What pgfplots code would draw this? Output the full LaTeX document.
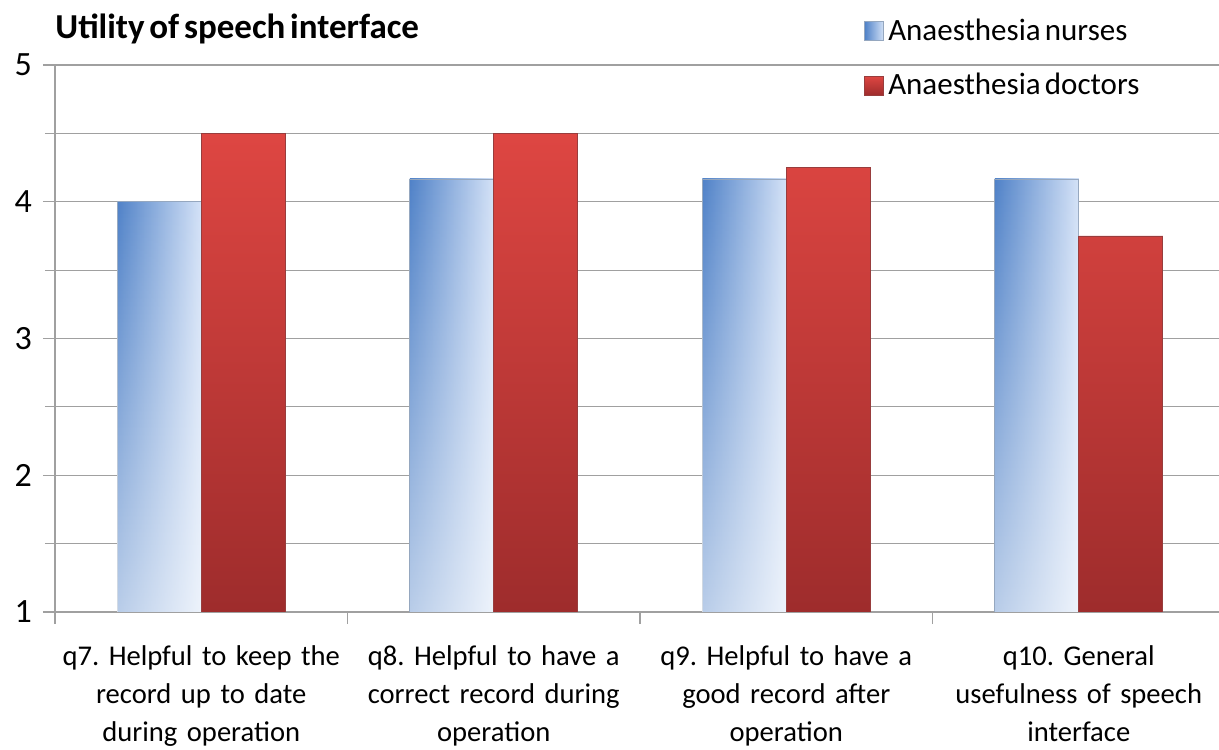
\documentclass[border=0pt]{standalone}
\usepackage{pgfplots}
\pgfplotsset{compat=1.18}
\usepackage{fontspec}
\setmainfont{Carlito}[WordSpace=0.6]
\usetikzlibrary{fadings}
\definecolor{nurseL}{RGB}{80,130,200}
\definecolor{nurseR}{RGB}{212,226,247}
\definecolor{docT}{RGB}{222,70,66}
\definecolor{docB}{RGB}{158,44,44}
\definecolor{gridc}{RGB}{160,160,160}
\frenchspacing
\pgfplotsset{
  nurse/.style={bar shift=-21pt, draw=nurseL!50!gray!70, line width=0.4pt, left color=nurseL, right color=nurseR},
  nursefade/.style={forget plot, bar shift=-21pt, draw=none, fill=white, fill opacity=0.6, path fading=north},
}
\begin{document}
\begin{tikzpicture}
\begin{axis}[
  at={(27.5pt,68.5pt)}, anchor=south west,
  scale only axis, width=585pt, height=273.5pt,
  xmin=-0.5, xmax=3.5, ymin=1, ymax=5,
  ybar, bar width=42pt,
  xtick={-0.5,0.5,1.5,2.5,3.5},
  xticklabels={,,,,},
  extra x ticks={0,1,2,3},
  extra x tick labels={{q7. Helpful to keep the\\record up to date\\during operation},
    {q8. Helpful to have a\\correct record during\\operation},
    {q9. Helpful to have a\\good record after\\operation},
    {q10. General\\usefulness of speech\\interface}},
  extra x tick style={major tick length=0pt, grid=none,
    tick label style={text width=145pt, align=center, font=\fontsize{14.3}{19}\selectfont, yshift=-13.5pt}},
  ytick={1,2,3,4,5}, minor ytick={1.5,2.5,3.5,4.5},
  ymajorgrids, yminorgrids,
  major grid style={gridc, line width=0.6pt},
  minor grid style={gridc, line width=0.6pt},
  axis x line*=bottom, axis y line*=left,
  axis line style={gridc, line width=0.6pt},
  tick style={gridc, line width=0.6pt},
  tick align=outside,
  major tick length=6pt, minor tick length=5pt,
  yticklabel style={font=\fontsize{17}{20}\selectfont, xshift=-2pt},
  /pgf/number format/assume math mode=true,
  legend image code/.code={\draw[#1] (0pt,-4.75pt) rectangle (9.5pt,4.75pt);},
  legend style={draw=none, fill=none, at={(0.6915,1.012)}, anchor=west,
    inner xsep=0pt, font=\fontsize{15.5}{18}\selectfont, row sep=11pt,
    /tikz/every even column/.append style={column sep=5pt}},
  legend cell align=left,
]
\addplot[nurse] coordinates {(0,4.0)};
\addplot[nurse, forget plot] coordinates {(1,4.1667)};
\addplot[nurse, forget plot] coordinates {(2,4.1667)};
\addplot[nurse, forget plot] coordinates {(3,4.1667)};
\addplot[nursefade] coordinates {(0,4.0)};
\addplot[nursefade] coordinates {(1,4.1667)};
\addplot[nursefade] coordinates {(2,4.1667)};
\addplot[nursefade] coordinates {(3,4.1667)};
\addplot[bar shift=21pt, draw=docB!80!gray, line width=0.4pt, top color=docT, bottom color=docB]
  coordinates {(0,4.5) (1,4.5) (2,4.25) (3,3.75)};
\legend{Anaesthesia nurses, Anaesthesia doctors}
\end{axis}
\node[anchor=base west, font=\bfseries\fontsize{17.5}{20}\selectfont, inner sep=0pt] at (27.5pt,355pt) {Utility of speech interface};
\pgfresetboundingbox
\useasboundingbox (0,0) rectangle (609.5pt,374.5pt);
\end{tikzpicture}
\end{document}
